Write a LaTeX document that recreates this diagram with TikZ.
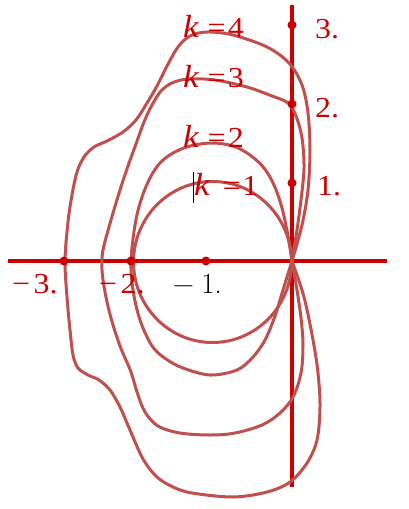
\documentclass[tikz,border=0pt]{standalone}
\usepackage{fontspec}
\setmainfont[FakeStretch=1.1]{Liberation Serif}
\definecolor{axred}{RGB}{204,0,0}
\definecolor{curv}{RGB}{192,80,77}
\tikzset{
  axisline/.style={axred, line width=4pt},
  curveline/.style={curv, line width=3pt, line join=round, line cap=round},
  dotnode/.style={circle, fill=axred, inner sep=0pt, minimum size=9pt},
  lab/.style={text=axred, font=\fontsize{29}{32}\selectfont, inner sep=0pt, anchor=base west},
  blab/.style={text=black, font=\usefont{TU}{lmr}{m}{n}\fontsize{29}{32}\selectfont, inner sep=0pt, anchor=base west}
}
\newcommand{\kk}{{\fontsize{32}{34}\selectfont\itshape k}}
\begin{document}
\begin{tikzpicture}[x=1pt,y=-1pt]
\useasboundingbox (0,0) rectangle (408,509);
% axes
\coordinate (xl) at (8,261);
\coordinate (xr) at (387,261);
\coordinate (yt) at (292,5);
\coordinate (yb) at (292,487);
\draw[axisline] (xl) -- (xr);
\draw[axisline] (yt) -- (yb);
% k = 1 circle
\draw[curveline] (212.5,262) ellipse [x radius=79, y radius=80.5];
% k = 2
\draw[curveline] plot[smooth, tension=0.55] coordinates {
 (292,261) (288,236) (282,208) (274,185) (264,168) (250,155) (233,146) (212,143)
 (190,146) (173,153) (160,163) (150,178) (141,200) (135,225) (131,261)
 (133,290) (140,320) (152,346) (166,359) (183,368) (210,375) (237,370)
 (253,357) (265,340) (275,316) (283,290) (292,261)};
% k = 3
\draw[curveline] plot[smooth, tension=0.55] coordinates {
 (292,261) (297,230) (301,200) (304,168) (302,138) (296,116) (288,103)
 (272,96) (247,87) (215,80) (188,79) (172,83) (161,91) (152,105)
 (144,122) (136,144) (128,166) (120,190) (111,220) (103,250) (102,270) (105,292)
 (111,318) (120,346) (131,372) (137,392) (145,412) (158,426) (180,433)
 (210,435) (235,433) (262,425) (280,413) (293,397) (301,373) (303,345)
 (301,318) (297,290) (292,261)};
% k = 4
\draw[curveline] plot[smooth, tension=0.55] coordinates {
 (292,261) (302,225) (308,190) (310,150) (308,113) (302,85) (289,63)
 (267,47) (233,35) (207,32) (190,36) (178,47) (167,66) (157,86) (147,103)
 (136,120) (123,132) (107,141) (94,147) (84,157) (77,172) (72,195) (68,222)
 (65,261) (67,297) (70,330) (73,355) (78,368) (88,375) (99,380) (110,390)
 (120,407) (130,430) (143,459) (157,477) (173,487) (192,493) (233,497)
 (267,492) (290,482) (307,463) (317,440) (320,407) (318,373) (313,340)
 (304,297) (292,261)};
% cursor bar
\coordinate (cb1) at (193,172);
\coordinate (cb2) at (193,203);
\draw[black, line width=1pt] (cb1) -- (cb2);
% dots
\node[dotnode] (d3) at (292,25) {};
\node[dotnode] (d2) at (292,104) {};
\node[dotnode] (d1) at (292,183) {};
\node[dotnode] (dm1) at (206,261) {};
\node[dotnode] (dm2) at (131,261) {};
\node[dotnode] (dm3) at (64,261) {};
% labels
\node[lab] (k4) at (183,37) {\kk\hspace{0.3em}=\hspace{0.08em}4};
\node[lab] (k3) at (183,87) {\kk\hspace{0.3em}=\hspace{0.08em}3};
\node[lab] (k2) at (183,147) {\kk\hspace{0.3em}=\hspace{0.08em}2};
\node[lab] (k1) at (194,195) {\kk\hspace{0.45em}=\hspace{0.05em}1};
\node[lab] (l3) at (315,38) {3.};
\node[lab] (l2) at (315,117) {2.};
\node[lab] (l1) at (317,195) {1.};
\node[lab] (lm3) at (12,293) {−\hspace{0.12em}3.};
\node[lab] (lm2) at (99,293) {−\hspace{0.12em}2.};
\node[blab] (lm1) at (173,293) {−\hspace{0.25em}1.};
\end{tikzpicture}
\end{document}
